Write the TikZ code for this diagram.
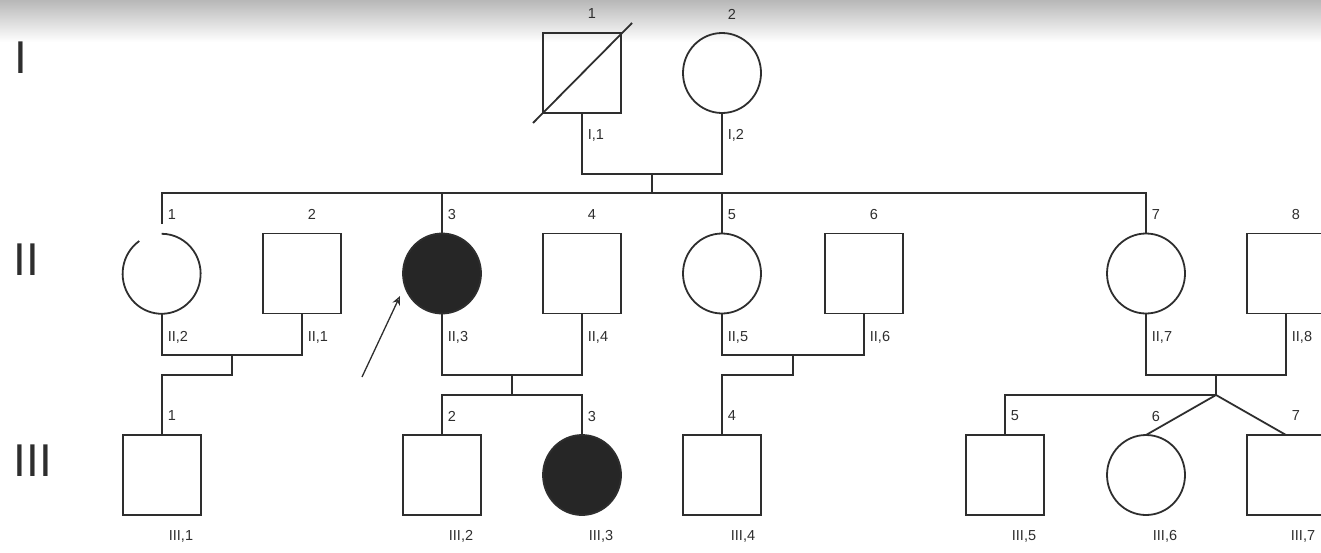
\documentclass[tikz,border=0pt]{standalone}
\usepackage{fontspec}
\setmainfont{Liberation Sans}
\usetikzlibrary{shapes.geometric,arrows.meta}

\begin{document}
\begin{tikzpicture}[x=1pt,y=1pt,line width=1.8pt,color=black!82,
        male/.style={draw,rectangle,minimum width=78pt,minimum height=80pt,inner sep=0pt,outer sep=0pt},
        female/.style={draw,ellipse,minimum width=78pt,minimum height=80pt,inner sep=0pt,outer sep=0pt},
        affected/.style={fill=black!85},
        num/.style={font=\fontsize{14.5}{16}\selectfont,inner sep=0pt},
        tag/.style={num,anchor=west},
        gen/.style={font=\fontsize{46}{50}\selectfont,inner sep=0pt},
        proband/.style={-{Stealth[open,length=9pt,width=8pt]},line width=1.3pt}]
        \useasboundingbox (0,0) rectangle (1321,-552);
        \shade[top color=black!28,bottom color=white] (0,0) rectangle (1321,-42);

        % generations
        \node[gen] (gI) at (21,-58) {I};
        \node[gen] (gII) at (26,-260) {II};
        \node[gen] (gIII) at (33,-461) {III};

        % generation I
        \node[male] (I1) at (582,-73) {};
        \node[female] (I2) at (722,-73) {};
        \draw ([shift={(-10,-10)}]I1.south west) -- ([shift={(11,10)}]I1.north east);

        % generation II
        \node[female,draw=none] (II1) at (162,-273.5) {};
        \draw (II1.125) arc[start angle=125,end angle=450,x radius=39pt,y radius=40pt];
        \node[male] (II2) at (302,-273.5) {};
        \node[female,affected] (II3) at (442,-273.5) {};
        \node[male] (II4) at (582,-273.5) {};
        \node[female] (II5) at (722,-273.5) {};
        \node[male] (II6) at (864,-273.5) {};
        \node[female] (II7) at (1146,-273.5) {};
        \node[male] (II8) at (1286,-273.5) {};

        % generation III
        \node[male] (III1) at (162,-475) {};
        \node[male] (III2) at (442,-475) {};
        \node[female,affected] (III3) at (582,-475) {};
        \node[male] (III4) at (722,-475) {};
        \node[male] (III5) at (1005,-475) {};
        \node[female] (III6) at (1146,-475) {};
        \node[male] (III7) at (1286,-475) {};

        % I,1 x I,2
        \coordinate (m1) at (652,-174);
        \coordinate (s1) at (652,-193);
        \coordinate (t1) at (162,-224);
        \draw (I1.south) |- (m1) -| (I2.south);
        \draw (m1) -- (s1);
        \draw (t1) |- (s1) -| (II7.north);
        \draw (II3.north) -- (II3.north |- s1);
        \draw (II5.north) -- (II5.north |- s1);

        % II,1 x II,2
        \coordinate (m2) at (232,-355);
        \coordinate (d2) at (232,-375);
        \draw (II1.south) |- (m2) -| (II2.south);
        \draw (m2) -- (d2) -| (III1.north);

        % II,3 x II,4
        \coordinate (m3) at (512,-375);
        \coordinate (s3) at (512,-395);
        \draw (II3.south) |- (m3) -| (II4.south);
        \draw (m3) -- (s3);
        \draw (III2.north) |- (s3) -| (III3.north);

        % II,5 x II,6
        \coordinate (m4) at (793,-355);
        \coordinate (d4) at (793,-375);
        \draw (II5.south) |- (m4) -| (II6.south);
        \draw (m4) -- (d4) -| (III4.north);

        % II,7 x II,8, twins
        \coordinate (m5) at (1216,-375);
        \coordinate (s5) at (1216,-395);
        \draw (II7.south) |- (m5) -| (II8.south);
        \draw (m5) -- (s5);
        \draw (III5.north) |- (s5);
        \draw (III6.north) -- (s5) -- (III7.north);

        % proband
        \coordinate (pb) at (362,-377);
        \coordinate (pbtip) at (400,-296);
        \draw[proband] (pb) -- (pbtip);

        % numbers
        \node[num] (nI1) at ([shift={(10,19)}]I1.north) {1};
        \node[num] (nI2) at ([shift={(10,19)}]I2.north) {2};
        \node[num] (nII1) at ([shift={(10,19)}]II1.north) {1};
        \node[num] (nII2) at ([shift={(10,19)}]II2.north) {2};
        \node[num] (nII3) at ([shift={(10,19)}]II3.north) {3};
        \node[num] (nII4) at ([shift={(10,19)}]II4.north) {4};
        \node[num] (nII5) at ([shift={(10,19)}]II5.north) {5};
        \node[num] (nII6) at ([shift={(10,19)}]II6.north) {6};
        \node[num] (nII7) at ([shift={(10,19)}]II7.north) {7};
        \node[num] (nII8) at ([shift={(10,19)}]II8.north) {8};
        \node[num] (nIII1) at ([shift={(10,19)}]III1.north) {1};
        \node[num] (nIII2) at ([shift={(10,19)}]III2.north) {2};
        \node[num] (nIII3) at ([shift={(10,19)}]III3.north) {3};
        \node[num] (nIII4) at ([shift={(10,19)}]III4.north) {4};
        \node[num] (nIII5) at ([shift={(10,19)}]III5.north) {5};
        \node[num] (nIII6) at ([shift={(10,19)}]III6.north) {6};
        \node[num] (nIII7) at ([shift={(10,19)}]III7.north) {7};

        % tags
        \node[tag] (lI1) at ([shift={(5,-22)}]I1.south) {I,1};
        \node[tag] (lI2) at ([shift={(5,-22)}]I2.south) {I,2};
        \node[tag] (lII1) at ([shift={(5,-24)}]II1.south) {II,2};
        \node[tag] (lII2) at ([shift={(5,-24)}]II2.south) {II,1};
        \node[tag] (lII3) at ([shift={(5,-24)}]II3.south) {II,3};
        \node[tag] (lII4) at ([shift={(5,-24)}]II4.south) {II,4};
        \node[tag] (lII5) at ([shift={(5,-24)}]II5.south) {II,5};
        \node[tag] (lII6) at ([shift={(5,-24)}]II6.south) {II,6};
        \node[tag] (lII7) at ([shift={(5,-24)}]II7.south) {II,7};
        \node[tag] (lII8) at ([shift={(5,-24)}]II8.south) {II,8};
        \node[tag] (lIII1) at ([shift={(6,-21)}]III1.south) {III,1};
        \node[tag] (lIII2) at ([shift={(6,-21)}]III2.south) {III,2};
        \node[tag] (lIII3) at ([shift={(6,-21)}]III3.south) {III,3};
        \node[tag] (lIII4) at ([shift={(8,-21)}]III4.south) {III,4};
        \node[tag] (lIII5) at ([shift={(6,-21)}]III5.south) {III,5};
        \node[tag] (lIII6) at ([shift={(6,-21)}]III6.south) {III,6};
        \node[tag] (lIII7) at ([shift={(4,-21)}]III7.south) {III,7};
    \end{tikzpicture}
\end{document}
